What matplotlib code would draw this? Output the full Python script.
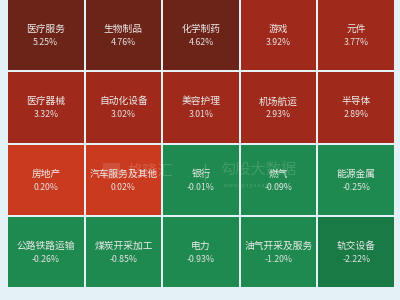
import matplotlib
matplotlib.use("Agg")
import matplotlib.pyplot as plt
from matplotlib.patches import Rectangle

plt.rcParams['font.family'] = ['Noto Sans CJK SC', 'DejaVu Sans']

# Sector names and daily change (%) in reading order
sectors = ["医疗服务", "生物制品", "化学制药", "游戏", "元件",
           "医疗器械", "自动化设备", "美容护理", "机场航运", "半导体",
           "房地产", "汽车服务及其他", "银行", "燃气", "能源金属",
           "公路铁路运输", "煤炭开采加工", "电力", "油气开采及服务", "轨交设备"]
changes = [5.25, 4.76, 4.62, 3.92, 3.77,
           3.32, 3.02, 3.01, 2.93, 2.89,
           0.20, 0.02, -0.01, -0.09, -0.25,
           -0.26, -0.85, -0.93, -1.20, -2.22]

n_cols, n_rows = 5, 4


def tile_color(v):
    if v >= 4.0:
        return "#6c2418"
    if v >= 1.0:
        return "#9f2a1c"
    if v >= 0:
        return "#c93a1f"
    if v > -2.0:
        return "#1f8a4f"
    return "#1a7a45"


fig = plt.figure(figsize=(4, 3), dpi=100)
fig.patch.set_facecolor("#e4f2f7")
ax = fig.add_axes([0, 0, 1, 1])
ax.set_xlim(0, 400)
ax.set_ylim(300, 0)
ax.axis("off")

x0, x1 = 7, 395
y0, y1 = -1, 288
cw = (x1 - x0) / n_cols
rh = (y1 - y0) / n_rows
gap = 1.0

for i, (name, v) in enumerate(zip(sectors, changes)):
    r, c = divmod(i, n_cols)
    left = x0 + c * cw
    top = y0 + r * rh
    ax.add_patch(Rectangle((left + gap, top + gap), cw - 2 * gap, rh - 2 * gap,
                           facecolor=tile_color(v), edgecolor="none"))
    cx = left + cw / 2
    cy = top + rh / 2
    ax.text(cx, cy - 6, name, ha="center", va="center", fontsize=7,
            color="#ececec", fontweight="medium")
    ax.text(cx, cy + 7.5, f"{v:.2f}%", ha="center", va="center", fontsize=6.3,
            color="#e2e2e2")

# Faint watermark across the middle rows
ax.add_patch(Rectangle((103, 163), 17, 16, facecolor="#ffffff", alpha=0.12,
                       edgecolor="none"))
ax.text(150, 171, "格隆汇", ha="center", va="center", fontsize=11,
        color="#ffffff", alpha=0.18)
ax.plot([205, 205], [164, 180], color="#ffffff", alpha=0.18, lw=1)
ax.text(258, 169, "勾股大数据", ha="center", va="center", fontsize=11,
        color="#ffffff", alpha=0.15)
ax.text(256, 186, "w w w . g o g u d a t a . c o m", ha="center", va="center",
        fontsize=3.5, color="#ffffff", alpha=0.2)

fig.savefig("out.png", dpi=100, facecolor=fig.get_facecolor())
